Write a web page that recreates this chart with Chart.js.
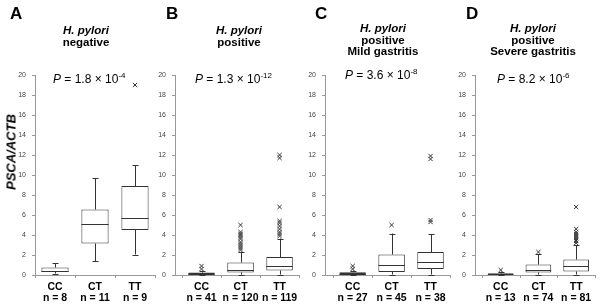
<!DOCTYPE html>
<html>
<head>
<meta charset="utf-8">
<script src="https://cdn.jsdelivr.net/npm/chart.js@4"></script>
<style>
  body { margin: 0; background: #fff; width: 600px; height: 305px; position: relative; overflow: hidden;
         font-family: "Liberation Sans", Arial, sans-serif; color: #000; }
  canvas { position: absolute; top: 0; }
  .txt { position: absolute; white-space: nowrap; }
  .letter { font-size: 17px; font-weight: bold; line-height: 17px; }
  .title { font-size: 11.5px; font-weight: bold; line-height: 11.5px; text-align: center; transform: translateX(-50%); }
  .pval { font-size: 12px; line-height: 12px; }
  .pval sup { font-size: 8px; vertical-align: 5px; line-height: 0; }
  .ytitle { font-size: 13px; font-weight: bold; font-style: italic; transform: translate(-50%, -50%) rotate(-90deg); }
</style>
</head>
<body>
<script>
// categories and counts
const categories = ['CC', 'CT', 'TT'];
const panelLetters = ['A', 'B', 'C', 'D'];
const panelTitles = [['negative'], ['positive'], ['positive', 'Mild gastritis'], ['positive', 'Severe gastritis']];
const nCounts = [[8, 11, 9], [41, 120, 119], [27, 45, 38], [13, 74, 81]];
const pMantissa = ['1.8', '1.3', '3.6', '8.2'];
const pExponent = ['-4', '-12', '-8', '-6'];

// box plot statistics, one row per panel (CC, CT, TT)
const whiskerLow  = [[0.15, 1.4, 2.05], [0.02, 0.05, 0.05], [0.02, 0.05, 0.05], [0.02, 0.05, 0.05]];
const quartile1   = [[0.3, 3.15, 4.5],  [0.08, 0.25, 0.45], [0.08, 0.3, 0.6],   [0.05, 0.25, 0.35]];
const medians     = [[0.45, 5.1, 5.75], [0.15, 0.5, 0.95],  [0.15, 1.05, 1.3],  [0.1, 0.55, 0.9]];
const quartile3   = [[0.75, 6.55, 8.9], [0.25, 1.25, 1.8],  [0.28, 2.05, 2.3],  [0.18, 1.05, 1.55]];
const whiskerHigh = [[1.2, 9.7, 11.0],  [0.45, 2.35, 3.65], [0.45, 4.15, 4.1],  [0.35, 2.1, 3.0]];
const outliers = [
  [[], [], [19.0]],
  [[0.6, 0.9], [2.5, 2.7, 2.9, 3.1, 3.3, 3.6, 3.8, 4.0, 4.1, 4.3, 5.0], [3.9, 4.1, 4.3, 4.6, 4.9, 5.2, 5.4, 6.8, 11.7, 12.0]],
  [[0.6, 0.9], [5.0], [5.3, 5.5, 11.6, 11.9]],
  [[0.5], [2.3], [3.2, 3.4, 3.5, 3.7, 3.9, 4.1, 4.3, 4.6, 6.8]]
];
const yTicks = [0, 2, 4, 6, 8, 10, 12, 14, 16, 18, 20];

// layout of the four panels
const panelLeft = [0, 150, 300, 450];
const canvasWidth = [160, 155, 155, 150];
const axisWidth = [35, 25, 25, 25];
const rightPad = [5, 4, 3, 0];
const xMin = [-0.5, -0.68, -0.71, -0.68];
const titleCenter = [86, 239, 383, 533];
const letterLeft = [10, 166, 315, 466];
const pLeft = [53, 195, 345, 497];

const lineColor = '#333';
const axisColor = '#999';

const boxPlugin = {
  id: 'boxWhiskers',
  beforeDatasetsDraw(chart) {
    const i = chart.options.plugins.boxWhiskers.panel;
    const ctx = chart.ctx;
    const y = chart.scales.y;
    const bars = chart.getDatasetMeta(0).data;
    ctx.save();
    ctx.strokeStyle = lineColor;
    ctx.lineWidth = 1;
    bars.forEach((bar, j) => {
      const x = Math.round(bar.x) + 0.5;
      const hi = y.getPixelForValue(whiskerHigh[i][j]);
      const lo = y.getPixelForValue(whiskerLow[i][j]);
      ctx.beginPath();
      ctx.moveTo(x, hi); ctx.lineTo(x, y.getPixelForValue(quartile3[i][j]));
      ctx.moveTo(x, lo); ctx.lineTo(x, y.getPixelForValue(quartile1[i][j]));
      ctx.moveTo(x - 3, Math.round(hi) + 0.5); ctx.lineTo(x + 3, Math.round(hi) + 0.5);
      ctx.moveTo(x - 3, Math.round(lo) + 0.5); ctx.lineTo(x + 3, Math.round(lo) + 0.5);
      ctx.stroke();
    });
    ctx.restore();
  },
  afterDatasetDraw(chart, args) {
    if (args.index !== 0) return;
    const i = chart.options.plugins.boxWhiskers.panel;
    const ctx = chart.ctx;
    const y = chart.scales.y;
    ctx.save();
    ctx.strokeStyle = lineColor;
    ctx.lineWidth = 1;
    chart.getDatasetMeta(0).data.forEach((bar, j) => {
      const ym = Math.round(y.getPixelForValue(medians[i][j])) + 0.5;
      ctx.beginPath();
      ctx.moveTo(bar.x - bar.width / 2, ym);
      ctx.lineTo(bar.x + bar.width / 2, ym);
      ctx.stroke();
    });
    ctx.restore();
  },
  afterDraw(chart) {
    // short tick marks between categories on the x axis
    const ctx = chart.ctx;
    const x = chart.scales.x;
    const bottom = chart.chartArea.bottom;
    ctx.save();
    ctx.strokeStyle = axisColor;
    ctx.lineWidth = 1;
    ctx.beginPath();
    [-0.5, 0.5, 1.5, 2.5].forEach(v => {
      const px = Math.round(x.getPixelForValue(v)) + 0.5;
      ctx.moveTo(px, bottom); ctx.lineTo(px, bottom + 3);
    });
    ctx.stroke();
    ctx.restore();
  }
};

function addText(cls, left, top, html) {
  const d = document.createElement('div');
  d.className = 'txt ' + cls;
  d.style.left = left + 'px';
  d.style.top = top + 'px';
  d.innerHTML = html;
  document.body.appendChild(d);
  return d;
}

function makePanel(i) {
  const canvas = document.createElement('canvas');
  canvas.width = canvasWidth[i];
  canvas.height = 305;
  canvas.style.left = panelLeft[i] + 'px';
  document.body.appendChild(canvas);

  const boxData = categories.map((c, j) => ({ x: j, y: [quartile1[i][j], quartile3[i][j]] }));
  const outlierData = [];
  categories.forEach((c, j) => outliers[i][j].forEach(v => outlierData.push({ x: j, y: v })));

  new Chart(canvas, {
    type: 'bar',
    data: {
      datasets: [{
        data: boxData,
        backgroundColor: '#fff',
        borderColor: lineColor,
        borderWidth: 1,
        borderSkipped: false,
        barPercentage: 0.68,
        categoryPercentage: 1
      }, {
        type: 'scatter',
        data: outlierData,
        pointStyle: 'crossRot',
        radius: 3,
        borderColor: lineColor,
        borderWidth: 1
      }]
    },
    options: {
      responsive: false,
      animation: false,
      layout: { padding: { top: 75, right: rightPad[i], bottom: 0, left: 0 } },
      plugins: {
        legend: { display: false },
        tooltip: { enabled: false },
        boxWhiskers: { panel: i }
      },
      scales: {
        x: {
          type: 'linear',
          offset: false,
          min: xMin[i],
          max: 2.5,
          afterBuildTicks: s => { s.ticks = categories.map((c, j) => ({ value: j })); },
          afterFit: s => { s.height = 30; },
          grid: { display: false, drawTicks: false, offset: false },
          border: { display: true, color: axisColor },
          ticks: {
            autoSkip: false,
            maxRotation: 0,
            padding: 7,
            color: '#000',
            font: { family: 'Liberation Sans', size: 10.5, weight: 'bold', lineHeight: 1.05 },
            callback: v => [categories[v], 'n = ' + nCounts[i][v]]
          }
        },
        y: {
          min: 0,
          max: 20,
          afterBuildTicks: s => { s.ticks = yTicks.map(v => ({ value: v })); },
          afterFit: s => { s.width = axisWidth[i]; },
          grid: { drawOnChartArea: false, drawTicks: true, tickLength: 3, color: axisColor },
          border: { display: true, color: axisColor },
          ticks: {
            padding: 6,
            color: '#444',
            font: { family: 'Liberation Sans', size: 7 }
          }
        }
      }
    },
    plugins: [boxPlugin]
  });

  // panel letter, title, p value
  addText('letter', letterLeft[i], 5, panelLetters[i]);
  const lines = ['<i>H. pylori</i>'].concat(panelTitles[i]);
  addText('title', titleCenter[i], lines.length === 3 ? 23 : 25, lines.join('<br>'));
  addText('pval', pLeft[i], i === 2 ? 69 : 73, '<i>P</i> = ' + pMantissa[i] + ' \u00d7 10<sup>' + pExponent[i] + '</sup>');
}

[0, 1, 2, 3].forEach(makePanel);
addText('ytitle', 11, 152, 'PSCA/ACTB');
</script>
</body>
</html>
